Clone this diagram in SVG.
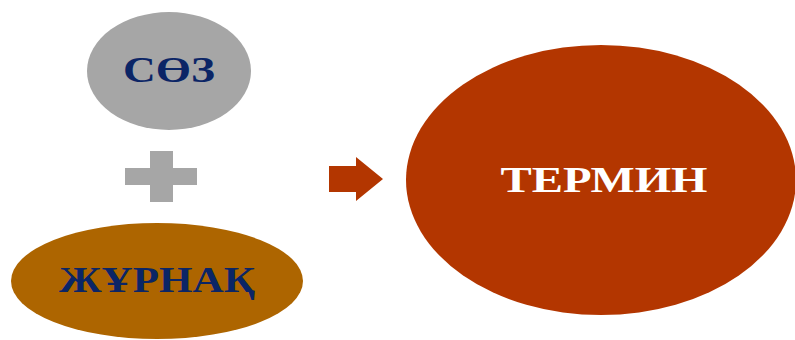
<svg xmlns="http://www.w3.org/2000/svg" width="795" height="340" viewBox="0 0 795 340">
<style>
.lbl{font-family:"Liberation Serif","Times New Roman",serif;font-weight:bold;font-size:35px;text-anchor:middle}
.dark{fill:#0b2566}
.light{fill:#ffffff}
</style>
<rect width="795" height="340" fill="#ffffff"/>
<g id="node-soz">
<ellipse cx="169" cy="71" rx="82" ry="59" fill="#a6a6a6"/>
<text class="lbl dark" x="169" y="82" textLength="92" lengthAdjust="spacingAndGlyphs">СӨЗ</text>
</g>
<g id="plus">
<rect x="125" y="168" width="72" height="17" fill="#a6a6a6"/>
<rect x="150" y="151" width="23" height="51" fill="#a6a6a6"/>
</g>
<g id="node-zhurnak">
<ellipse cx="157" cy="281" rx="146" ry="58" fill="#ad6500"/>
<text class="lbl dark" x="157" y="292" textLength="196" lengthAdjust="spacingAndGlyphs">ЖҰРНАҚ</text>
</g>
<g id="connectors">
<polygon points="329,166 356,166 356,157 383,179 356,201 356,192 329,192" fill="#b33600"/>
</g>
<g id="node-termin">
<ellipse cx="601" cy="180" rx="195" ry="135" fill="#b33600"/>
<text class="lbl light" x="604" y="192" textLength="207" lengthAdjust="spacingAndGlyphs">ТЕРМИН</text>
</g>
</svg>
